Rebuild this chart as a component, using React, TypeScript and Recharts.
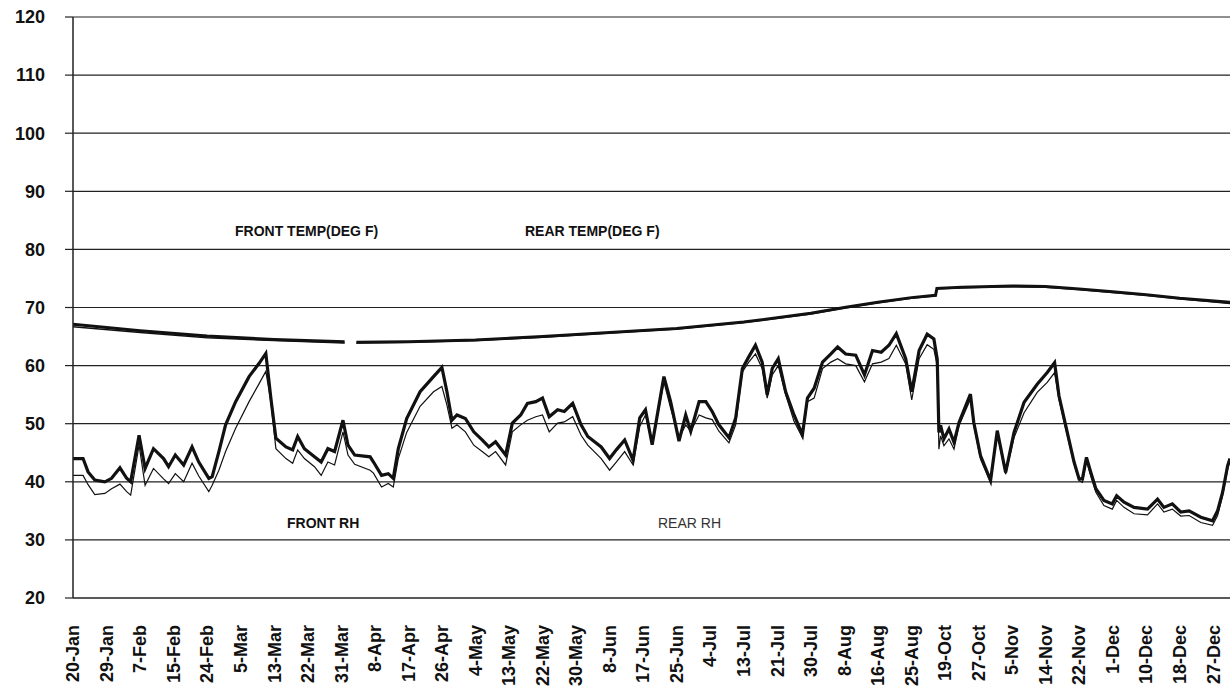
import React from 'react'
import {
    LineChart,
    Line,
    XAxis,
    YAxis,
    CartesianGrid,
} from 'recharts'

// x positions are in "tick units": 0 = 20-Jan, 1 = 29-Jan, ... 34 = 27-Dec
const tickLabels = [
    '20-Jan', '29-Jan', '7-Feb', '15-Feb', '24-Feb', '5-Mar', '13-Mar', '22-Mar',
    '31-Mar', '8-Apr', '17-Apr', '26-Apr', '4-May', '13-May', '22-May', '30-May',
    '8-Jun', '17-Jun', '25-Jun', '4-Jul', '13-Jul', '21-Jul', '30-Jul', '8-Aug',
    '16-Aug', '25-Aug', '19-Oct', '27-Oct', '5-Nov', '14-Nov', '22-Nov', '1-Dec',
    '10-Dec', '18-Dec', '27-Dec',
]

const yTicks = [20, 30, 40, 50, 60, 70, 80, 90, 100, 110, 120]

const tempAt = [0, 2, 4, 6, 8.1, 8.25, 8.45, 10, 12, 14, 16, 18, 20, 22, 23, 24, 25, 25.72, 25.76, 26.5, 28, 29, 30, 31, 32, 33, 34.5]
const frontTemp = [67.1, 66.0, 65.1, 64.5, 64.1, null, 64.0, 64.1, 64.4, 65.0, 65.7, 66.4, 67.5, 69.0, 70.0, 70.9, 71.7, 72.1, 73.3, 73.5, 73.7, 73.6, 73.2, 72.7, 72.2, 71.6, 70.9]
const rearTemp = [66.7, 65.7, 64.8, 64.3, 63.9, null, 63.9, 64.0, 64.3, 64.9, 65.6, 66.3, 67.4, 68.9, 69.9, 70.8, 71.6, 72.0, 73.2, 73.4, 73.6, 73.5, 73.1, 72.6, 72.1, 71.5, 70.7]

const rhAt = [
    0, 0.3, 0.45, 0.65, 0.95, 1.15, 1.4, 1.6, 1.72, 1.97, 2.15, 2.4, 2.7, 2.85, 3.05, 3.3, 3.55, 3.75,
    4.05, 4.15, 4.35, 4.55, 4.85, 5.25, 5.55, 5.75, 5.9, 6.05, 6.35, 6.55, 6.7, 6.9, 7.2, 7.4, 7.6, 7.8,
    8.05, 8.2, 8.4, 8.86, 8.96, 9.2, 9.4, 9.55, 9.7, 9.95, 10.35, 10.75, 11.0, 11.15, 11.3, 11.45, 11.7,
    11.95, 12.2, 12.4, 12.6, 12.9, 13.1, 13.35, 13.55, 13.8, 14.0, 14.2, 14.45, 14.65, 14.9, 15.15, 15.35,
    15.75, 16.0, 16.2, 16.45, 16.7, 16.9, 17.07, 17.27, 17.62, 17.82, 18.07, 18.27, 18.42, 18.67, 18.87,
    19.06, 19.26, 19.56, 19.76, 19.96, 20.15, 20.35, 20.55, 20.7, 20.85, 21.03, 21.25, 21.5, 21.75, 21.9,
    22.1, 22.35, 22.6, 22.8, 23.04, 23.34, 23.6, 23.84, 24.1, 24.33, 24.55, 24.83, 25.01, 25.23, 25.47,
    25.67, 25.77, 25.82, 25.87, 25.97, 26.12, 26.27, 26.42, 26.76, 26.86, 27.06, 27.36, 27.56, 27.81,
    28.06, 28.36, 28.75, 29.05, 29.27, 29.4, 29.6, 29.85, 30.0, 30.1, 30.22, 30.35, 30.5, 30.74, 30.99,
    31.12, 31.34, 31.64, 32.04, 32.34, 32.53, 32.78, 33.03, 33.28, 33.63, 33.98, 34.13, 34.28, 34.43, 34.5,
]
const frontRh = [
    44.0, 44.0, 41.7, 40.3, 40.0, 40.6, 42.4, 40.6, 40.0, 48.0, 42.3, 45.7, 44.0, 42.6, 44.6, 42.9, 46.0, 43.4,
    40.6, 40.9, 45.2, 49.8, 53.8, 58.1, 60.4, 62.1, 54.4, 47.5, 46.0, 45.5, 47.8, 45.7, 44.3, 43.4, 45.7, 45.2,
    50.6, 46.3, 44.6, 44.3, 43.4, 41.1, 41.4, 40.6, 45.7, 50.9, 55.5, 58.1, 59.7, 55.5, 50.6, 51.5, 50.9,
    48.6, 47.2, 46.0, 46.9, 44.6, 50.1, 51.5, 53.5, 53.8, 54.4, 51.2, 52.4, 52.1, 53.5, 49.8, 47.8,
    46.0, 44.0, 45.5, 47.2, 43.7, 51.0, 52.4, 46.4, 58.1, 53.8, 47.0, 51.5, 48.7, 53.8, 53.8,
    52.1, 49.8, 47.6, 51.0, 59.5, 61.5, 63.5, 60.6, 55.0, 59.5, 61.2, 55.5, 51.5, 48.1, 54.4,
    56.1, 60.6, 62.0, 63.2, 62.0, 61.8, 58.4, 62.6, 62.3, 63.5, 65.5, 61.2, 55.5, 62.6, 65.4,
    64.6, 61.1, 48.5, 49.7, 47.4, 49.1, 46.8, 50.2, 55.1, 50.2, 44.5, 40.2, 48.8, 41.6,
    48.5, 53.7, 56.8, 58.8, 60.5, 54.8, 49.7, 43.4, 40.5, 40.5, 44.2, 41.6, 38.8, 36.8, 36.2,
    37.6, 36.5, 35.6, 35.3, 37.0, 35.6, 36.2, 34.8, 35.0, 33.9, 33.3, 35.0, 38.2, 42.8, 44.0,
]
const rearRh = [
    41.1, 41.1, 39.5, 37.8, 38.0, 38.8, 39.6, 38.3, 37.7, 46.3, 39.4, 42.3, 40.5, 39.7, 41.4, 40.0, 43.2, 41.0,
    38.3, 39.4, 42.0, 45.2, 49.2, 53.8, 56.9, 59.0, 53.8, 45.7, 44.0, 43.2, 45.5, 44.0, 42.6, 41.1, 43.4, 42.9,
    48.6, 44.6, 43.0, 42.0, 41.5, 39.1, 39.7, 39.1, 44.0, 48.5, 53.0, 55.5, 56.4, 53.2, 49.2, 49.8, 48.6,
    46.3, 45.2, 44.3, 45.2, 42.9, 48.6, 49.8, 50.6, 51.2, 51.5, 48.6, 50.1, 50.3, 51.2, 48.0, 46.3,
    44.0, 42.0, 43.4, 45.2, 42.9, 49.5, 51.5, 46.4, 57.2, 52.7, 47.6, 49.8, 48.7, 51.5, 51.0,
    50.7, 48.7, 46.7, 49.8, 58.9, 60.6, 62.0, 59.5, 54.4, 58.4, 60.0, 55.0, 50.4, 47.6, 53.8,
    54.4, 59.5, 60.6, 61.2, 60.3, 60.0, 57.2, 60.3, 60.6, 61.2, 63.5, 60.3, 54.1, 61.2, 63.6,
    62.8, 60.0, 45.6, 47.9, 46.2, 47.4, 45.6, 49.7, 54.2, 49.7, 43.9, 39.9, 48.2, 41.3,
    47.6, 51.9, 55.4, 57.1, 58.8, 54.2, 49.1, 43.1, 40.2, 39.9, 43.6, 41.0, 38.2, 35.9, 35.3,
    36.8, 35.6, 34.5, 34.3, 36.2, 34.8, 35.3, 34.1, 34.2, 33.0, 32.5, 34.2, 37.6, 42.2, 43.5,
]

const tempData = tempAt.map((x, i) => ({ x, front: frontTemp[i], rear: rearTemp[i] }))
const rhData = rhAt.map((x, i) => ({ x, front: frontRh[i], rear: rearRh[i] }))

const FONT = '"Liberation Sans", Arial, Helvetica, sans-serif'
const INK = '#111'

const XTick = (props: any) => {
    const { x, payload } = props
    // label ends ~27px below the axis line
    const y = props.y + 20
    return (
        <text
            x={x}
            y={y}
            dy="0.35em"
            transform={`rotate(-90, ${x}, ${y})`}
            textAnchor="end"
            fontFamily={FONT}
            fontWeight={700}
            fontSize={18}
            fill={INK}
        >
            {tickLabels[payload.value]}
        </text>
    )
}

const chartLabel = (left: number, top: number, bold: boolean): React.CSSProperties => ({
    position: 'absolute',
    left,
    top,
    fontFamily: FONT,
    fontSize: 14,
    fontWeight: bold ? 700 : 400,
    color: bold ? INK : '#333',
    whiteSpace: 'nowrap',
    lineHeight: '16px',
})

export default function App() {
    return (
        <div style={{ position: 'absolute', left: 0, top: 0, width: 1230, height: 692, background: '#fff' }}>
            <LineChart
                width={1230}
                height={692}
                margin={{ top: 17, right: 0, bottom: 0, left: 13 }}
            >
                <CartesianGrid vertical={false} stroke="#222" strokeWidth={1.2} />
                <XAxis
                    dataKey="x"
                    type="number"
                    domain={[0, 34.5]}
                    ticks={tickLabels.map((_, i) => i)}
                    interval={0}
                    height={94}
                    tickLine={false}
                    tickSize={0}
                    tickMargin={7}
                    axisLine={{ stroke: '#222', strokeWidth: 1.2 }}
                    tick={<XTick />}
                    allowDataOverflow
                />
                <YAxis
                    type="number"
                    domain={[20, 120]}
                    ticks={yTicks}
                    interval={0}
                    width={60}
                    tickSize={8}
                    tickMargin={20}
                    tickLine={{ stroke: '#222', strokeWidth: 1.2 }}
                    axisLine={{ stroke: '#222', strokeWidth: 1.5 }}
                    tick={{ fontFamily: FONT, fontWeight: 700, fontSize: 18, fill: INK }}
                />
                <Line
                    data={tempData}
                    dataKey="rear"
                    type="linear"
                    stroke={INK}
                    strokeWidth={1.5}
                    dot={false}
                    isAnimationActive={false}
                />
                <Line
                    data={tempData}
                    dataKey="front"
                    type="linear"
                    stroke={INK}
                    strokeWidth={3}
                    dot={false}
                    isAnimationActive={false}
                />
                <Line
                    data={rhData}
                    dataKey="rear"
                    type="linear"
                    stroke={INK}
                    strokeWidth={1.2}
                    dot={false}
                    isAnimationActive={false}
                />
                <Line
                    data={rhData}
                    dataKey="front"
                    type="linear"
                    stroke={INK}
                    strokeWidth={3.2}
                    dot={false}
                    isAnimationActive={false}
                />
            </LineChart>

            <div style={chartLabel(235, 223, true)}>FRONT TEMP(DEG F)</div>
            <div style={chartLabel(525, 223, true)}>REAR TEMP(DEG F)</div>
            <div style={chartLabel(287, 515, true)}>FRONT RH</div>
            <div style={chartLabel(658, 515, false)}>REAR RH</div>
        </div>
    )
}
